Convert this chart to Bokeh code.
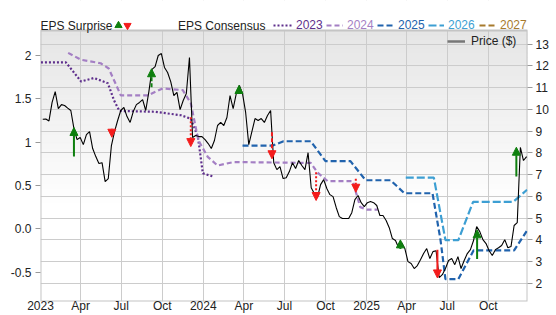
import numpy as np
import pandas as pd
from bokeh.plotting import figure
from bokeh.models import (Range1d, LinearAxis, FixedTicker, MonthsTicker, CustomJSTickFormatter,
                          Grid, Legend, LegendItem, Label, Arrow, NormalHead, ColumnDataSource)
from bokeh.core.properties import value
from bokeh.embed import file_html
from bokeh.resources import INLINE

FONT = "Liberation Sans"

# ---------------- data ----------------
price_first_week = "2023-01-06"   # weekly closes
price = [
    9.55, 9.56, 9.47, 10.32, 10.82, 10.04, 10.22, 10.18, 10.06, 9.95,
    9.12, 8.61, 8.71, 8.38, 8.84, 8.98, 8.20, 7.83, 7.51, 7.55,
    6.68, 6.82, 8.34, 8.98, 9.49, 9.95, 10.09, 9.67, 9.40, 9.90,
    10.22, 10.32, 10.45, 9.95, 10.82, 11.84, 11.97, 12.48, 12.57, 11.93,
    11.70, 11.28, 10.64, 10.78, 9.99, 10.41, 10.73, 12.39, 8.71, 8.80,
    8.75, 8.75, 8.61, 8.43, 8.20, 8.57, 9.26, 9.40, 9.26, 9.63,
    10.64, 10.04, 10.73, 11.10, 10.73, 9.86, 8.38, 8.98, 9.58, 9.49,
    9.58, 9.40, 9.72, 9.95, 7.55, 7.23, 7.37, 6.82, 6.86, 7.14,
    7.55, 7.28, 7.65, 7.42, 7.23, 8.01, 6.40, 6.13, 5.94, 6.54,
    6.77, 6.36, 6.08, 5.99, 5.49, 5.07, 4.98, 4.98, 4.98, 5.25,
    5.85, 6.04, 5.71, 5.53, 5.71, 5.76, 5.71, 5.58, 5.12, 5.12,
    4.89, 4.56, 4.06, 3.97, 3.64, 3.87, 3.60, 3.00, 2.91, 2.68,
    2.82, 3.09, 3.37, 3.60, 3.14, 3.46, 3.50, 2.26, 2.40, 2.68,
    3.05, 3.14, 2.86, 3.23, 2.68, 3.05, 3.37, 3.55, 3.97, 4.61,
    4.38, 4.01, 3.83, 3.50, 3.28, 3.55, 3.64, 3.74, 4.01, 3.64,
    3.69, 4.66, 4.79, 8.25, 7.65, 7.83,
]

eps23_dates = ["2023-01-02", "2023-02-27", "2023-04-02", "2023-05-01", "2023-06-01", "2023-06-15",
               "2023-06-27", "2023-09-15", "2023-11-12", "2023-12-04", "2023-12-20", "2023-12-31",
               "2024-01-25"]
eps23 = [1.92, 1.92, 1.70, 1.74, 1.68, 1.48, 1.36, 1.35, 1.31, 1.27, 1.06, 0.64, 0.60]

eps24_dates = ["2023-03-04", "2023-04-02", "2023-05-16", "2023-06-03", "2023-06-30", "2023-08-30",
               "2023-10-02", "2023-11-16", "2023-12-04", "2023-12-21", "2024-01-11", "2024-02-02",
               "2024-03-09", "2024-08-29", "2024-09-13", "2024-10-06", "2024-12-01", "2024-12-18",
               "2025-01-03", "2025-01-26"]
eps24 = [2.03, 1.95, 1.91, 1.85, 1.54, 1.54, 1.62, 1.60, 1.45, 1.02, 0.83, 0.73,
         0.77, 0.76, 0.65, 0.55, 0.55, 0.25, 0.22, 0.22]

eps25_dates = ["2024-03-29", "2024-06-05", "2024-06-29", "2024-08-29", "2024-10-01", "2024-11-26",
               "2024-12-30", "2025-02-24", "2025-03-27", "2025-05-29", "2025-06-16", "2025-06-27",
               "2025-07-26", "2025-08-29", "2025-11-28", "2025-12-27"]
eps25 = [0.96, 0.96, 1.01, 1.01, 0.78, 0.78, 0.56, 0.56, 0.41, 0.41, -0.13, -0.58,
         -0.58, -0.25, -0.25, -0.02]

eps26_dates = ["2025-03-30", "2025-06-01", "2025-06-27", "2025-07-26", "2025-08-28", "2025-11-26",
               "2025-12-27"]
eps26 = [0.59, 0.59, -0.13, -0.13, 0.31, 0.31, 0.45]

eps27_dates = []
eps27 = []

surprise_dates = ["2023-03-17", "2023-06-10", "2023-09-07", "2023-12-04", "2024-03-21", "2024-06-03",
                  "2024-09-10", "2024-12-08", "2025-03-18", "2025-06-09", "2025-09-06", "2025-12-03"]
surprise_from = [7.83, 9.11, 11.02, 9.64, 10.72, 8.95, 7.11, 6.81, 3.58, 3.54, 3.12, 6.91]
surprise_to = [9.17, 8.72, 11.87, 8.29, 11.10, 7.73, 5.81, 6.19, 4.00, 2.25, 4.46, 8.26]

left_ticks = [-0.5, 0.0, 0.5, 1.0, 1.5, 2.0]
right_ticks = [2, 3, 4, 5, 6, 7, 8, 9, 10, 11, 12, 13]

# ---------------- styling ----------------
stem_dash = ["solid", "3 2", "4 2", "2 2", "solid", "4 2", "2 2", "2 2",
             "solid", "solid", "solid", "solid"]
GREEN, RED = "#0e7f0e", "#f41c1c"
C23, C24, C25, C26, C27 = "#5e2f8c", "#a47fc4", "#2163ad", "#3d9fd3", "#a77a2d"
GRID = "#cccccc"
BORDER = "#c4c4c4"
TXT = "#222222"

W, H = 556, 315
TOP_PAD = 30      # white strip above the plot area (holds the legend row)
FH = 301          # frame height in px (frame spans canvas top to the x axis)
VIS_H = FH - TOP_PAD

x_start, x_end = pd.Timestamp("2023-01-01"), pd.Timestamp("2025-12-28")
vis_eps_lo, vis_eps_hi = -0.839, 2.288
vis_px_lo, vis_px_hi = 1.165, 13.63
eps_hi = vis_eps_hi + (vis_eps_hi - vis_eps_lo) * TOP_PAD / VIS_H
px_hi = vis_px_hi + (vis_px_hi - vis_px_lo) * TOP_PAD / VIS_H

p = figure(width=W, height=H, x_axis_type="datetime", output_backend="svg", title=None,
           toolbar_location=None, x_range=Range1d(x_start, x_end),
           y_range=Range1d(vis_eps_lo, eps_hi),
           min_border_left=40, min_border_right=29, min_border_top=0, min_border_bottom=14)
p.extra_y_ranges = {"price": Range1d(vis_px_lo, px_hi)}
p.background_fill_color = "white"
p.border_fill_color = "white"
p.outline_line_color = None

xs = np.datetime64(x_start.date())
xe = np.datetime64(x_end.date())

# gradient background (grey at the top fading to white)
nb = 60
edges = np.linspace(vis_px_lo, vis_px_hi, nb + 1)
mid = (edges[:-1] + edges[1:]) / 2
t = (vis_px_hi - mid) / (vis_px_hi - vis_px_lo)
lev = np.clip(229 + (255 - 229) * t / 0.65, 229, 255).round().astype(int)
cols = ["#%02x%02x%02x" % (v, v, v) for v in lev]
bg = ColumnDataSource(dict(left=np.full(nb, xs), right=np.full(nb, xe),
                           bottom=edges[:-1], top=edges[1:], bgcol=cols))
p.quad(left="left", right="right", bottom="bottom", top="top", fill_color="bgcol",
       line_color="bgcol", line_width=1, source=bg, y_range_name="price", level="underlay")

# grids
qt = MonthsTicker(months=[0, 3, 6, 9])
p.xaxis.ticker = qt
p.xgrid.visible = False
p.ygrid.visible = False
p.add_layout(Grid(dimension=0, ticker=qt, grid_line_color=GRID))
p.add_layout(Grid(dimension=1, ticker=FixedTicker(ticks=right_ticks), y_range_name="price",
                  grid_line_color=GRID))

# white strip above the plot area + plot border
p.quad(left=[xs], right=[xe], bottom=[vis_px_hi], top=[px_hi], fill_color="white",
       line_color=None, y_range_name="price")
p.quad(left=[xs], right=[xe], bottom=[vis_px_lo], top=[vis_px_hi], fill_color=None,
       line_color=BORDER, line_width=2, y_range_name="price")

# axes
p.xaxis.formatter = CustomJSTickFormatter(code="""
const d = new Date(tick);
const m = d.getUTCMonth();
const names = ['Jan','Feb','Mar','Apr','May','Jun','Jul','Aug','Sep','Oct','Nov','Dec'];
return m == 0 ? String(d.getUTCFullYear()) : names[m];
""")
p.yaxis.ticker = FixedTicker(ticks=left_ticks)
p.yaxis.formatter = CustomJSTickFormatter(code="return tick == 0 ? '0.0' : String(tick);")
raxis = LinearAxis(y_range_name="price", ticker=FixedTicker(ticks=right_ticks))
p.add_layout(raxis, "right")

for ax in [p.xaxis[0], p.yaxis[0], raxis]:
    ax.axis_line_color = None
    ax.major_tick_line_color = "#999999"
    ax.minor_tick_line_color = None
    ax.major_label_text_font = FONT
    ax.major_label_text_font_size = "12px"
    ax.major_label_text_color = TXT
p.xaxis.major_tick_out = 0
p.xaxis.major_tick_in = 0
p.xaxis.major_label_standoff = -3
p.yaxis.major_tick_out = 5
p.yaxis.major_tick_in = 0
p.yaxis.major_label_standoff = 4
raxis.major_tick_out = 5
raxis.major_tick_in = 0
raxis.major_label_standoff = 3

# consensus lines
r23 = p.line(pd.to_datetime(eps23_dates), eps23, line_color=C23, line_width=2.2, line_dash="2 2")
r24 = p.line(pd.to_datetime(eps24_dates), eps24, line_color=C24, line_width=2.2, line_dash="5 3")
r25 = p.line(pd.to_datetime(eps25_dates), eps25, line_color=C25, line_width=2.2, line_dash="6 3")
r26 = p.line(pd.to_datetime(eps26_dates), eps26, line_color=C26, line_width=2.2, line_dash="8 3")
r27 = p.line(pd.to_datetime(eps27_dates), eps27, line_color=C27, line_width=2.2, line_dash="6 3")

# price
pdates = pd.date_range(price_first_week, periods=len(price), freq="7D")
p.line(pdates, price, y_range_name="price", line_color="black", line_width=1.1)

# surprise arrows
sd = pd.to_datetime(surprise_dates)
groups = {}
for i in range(len(surprise_dates)):
    up = surprise_to[i] > surprise_from[i]
    key = (GREEN if up else RED, stem_dash[i])
    groups.setdefault(key, []).append(i)
for (col, dash), idx in groups.items():
    src = ColumnDataSource(dict(x0=[sd[i] for i in idx], y0=[surprise_from[i] for i in idx],
                                x1=[sd[i] for i in idx], y1=[surprise_to[i] for i in idx]))
    p.add_layout(Arrow(x_start="x0", y_start="y0", x_end="x1", y_end="y1", source=src,
                       y_range_name="price", line_color=col, line_width=2, line_dash=dash,
                       end=NormalHead(size=8, fill_color=col, line_color=col, line_width=1)))

# legend sample renderers (no visible data)
up_r = p.scatter(x=[np.nan], y=[np.nan], marker="triangle", size=8, fill_color=GREEN, line_color=GREEN)
dn_r = p.scatter(x=[np.nan], y=[np.nan], marker="inverted_triangle", size=8, fill_color=RED,
                 line_color=RED)
pr_r = p.line(x=[np.nan, np.nan], y=[np.nan, np.nan], line_color="#777777", line_width=2.5)
r27b = p.line(x=[np.nan, np.nan], y=[np.nan, np.nan], line_color=C27, line_width=2.2,
              line_dash="6 3")


def mk_legend(label, rend, x, y, color, gw, gh=14, standoff=3):
    lg = Legend(items=[LegendItem(label=value(label), renderers=[rend])],
                orientation="horizontal", location=(x, y), glyph_width=gw, glyph_height=gh,
                label_standoff=standoff, label_width=0, label_height=gh, spacing=0, padding=0,
                margin=0, border_line_color=None, background_fill_alpha=0,
                label_text_font=FONT, label_text_font_size="12px", label_text_color=color)
    p.add_layout(lg)
    return lg


ROW = FH - TOP_PAD - 2  # bottom of the legend row, measured up from the frame bottom
mk_legend(" ", up_r, 69, ROW - 2, TXT, 18, 18, 0)
mk_legend(" ", dn_r, 78, ROW - 2, TXT, 18, 18, 0)
mk_legend("2023", r23, 233, ROW, C23, 20)
mk_legend("2024", r24, 286, ROW, C24, 17, standoff=4)
mk_legend("2025", r25, 337, ROW, C25, 17, standoff=4)
mk_legend("2026", r26, 388, ROW, C26, 16, standoff=4)
mk_legend("2027", r27b, 439, ROW, C27, 18, standoff=3)
mk_legend("Price ($)", pr_r, 407, FH - 48, TXT, 18, standoff=6)

for txt, x in [("EPS Surprise", 0), ("EPS Consensus", 137.5)]:
    p.add_layout(Label(x=x, y=FH - 25, x_units="screen", y_units="screen", text=txt,
                       text_font=FONT, text_font_size="12px", text_color=TXT,
                       text_baseline="middle", text_align="left"))

open("out.html", "w").write(file_html(p, INLINE))
